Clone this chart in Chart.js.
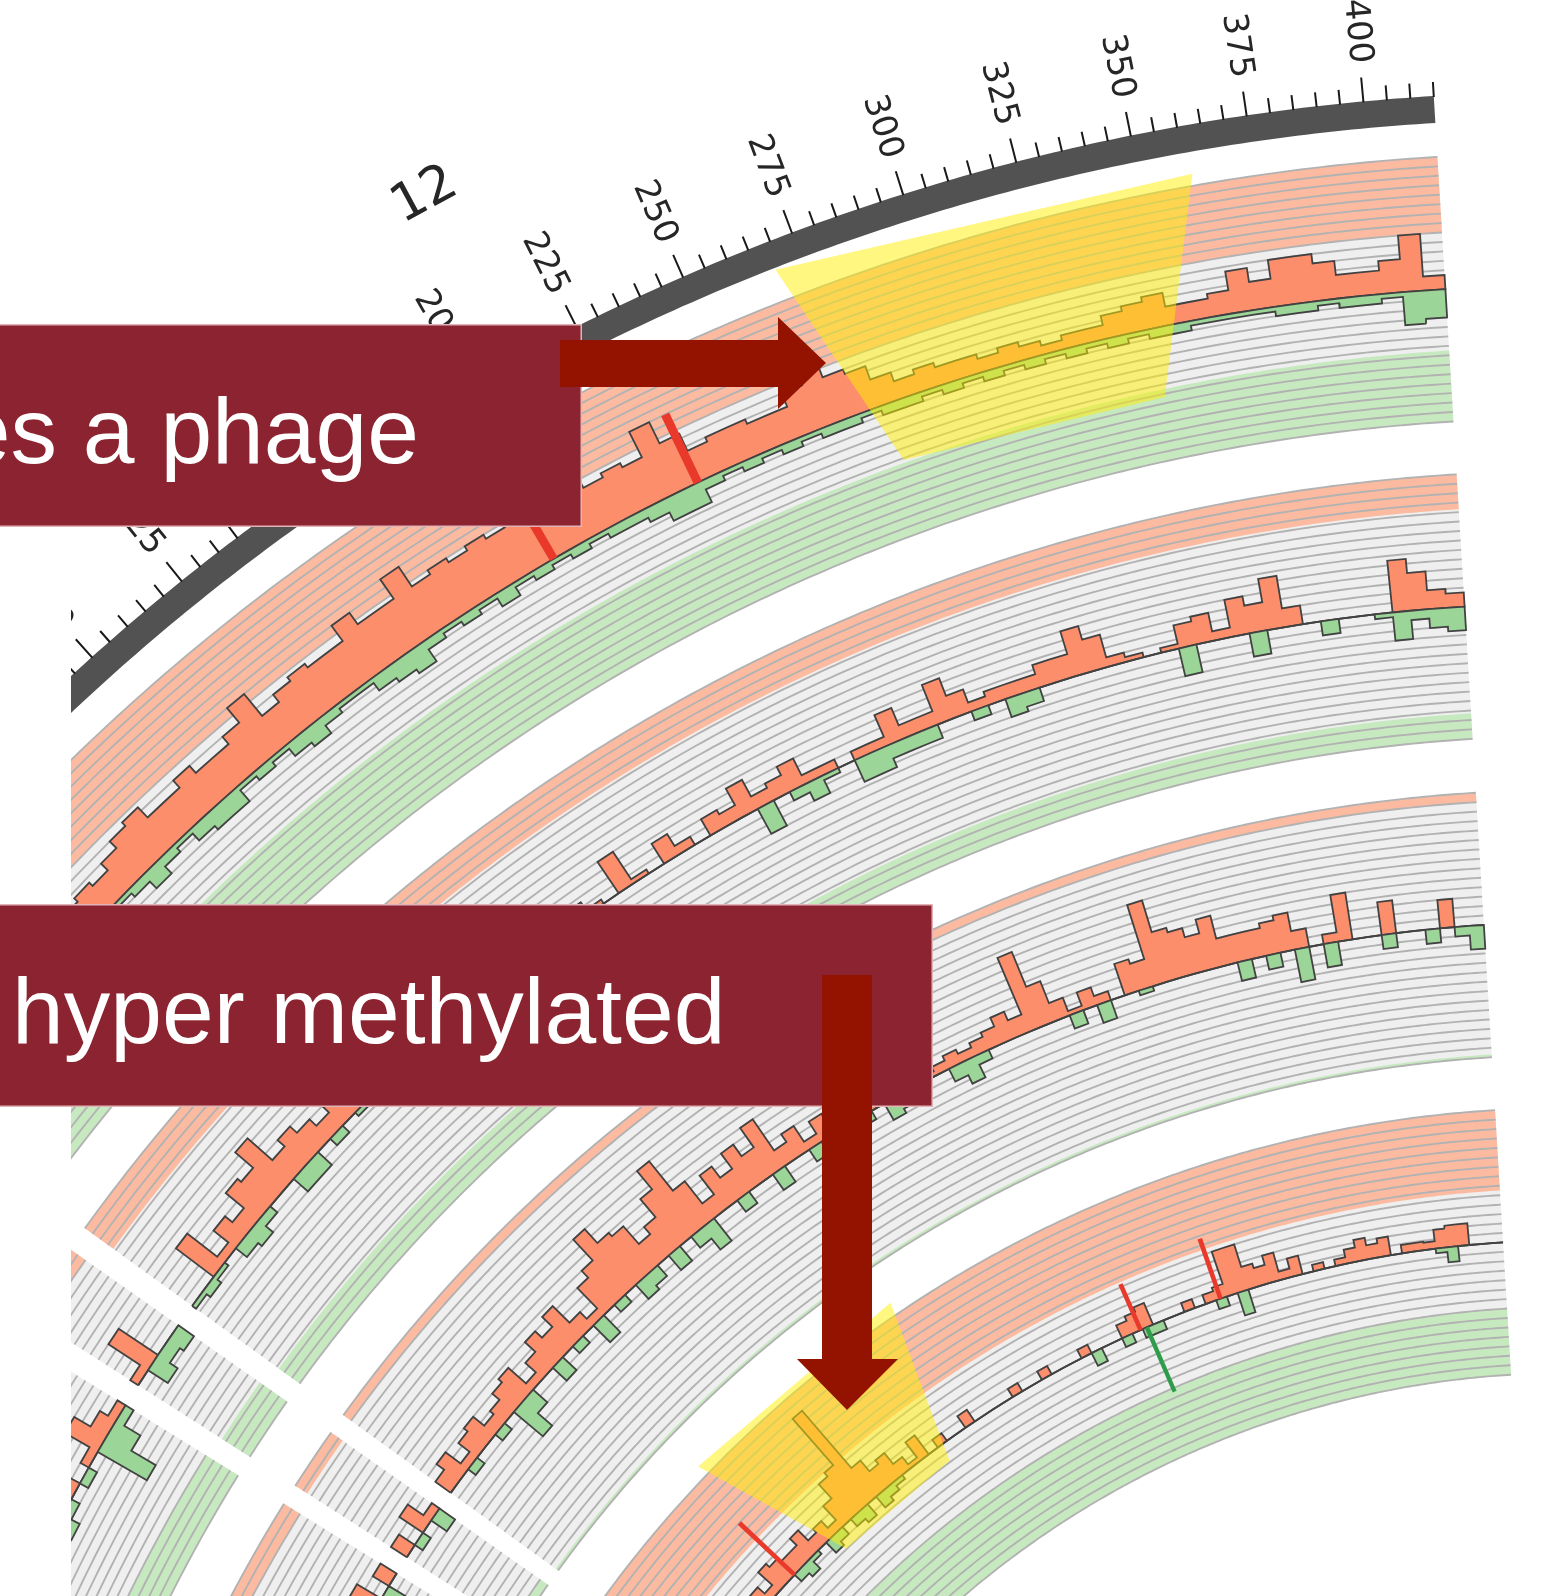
<!DOCTYPE html>
<html>
<head>
<meta charset="utf-8">
<style>
  html, body { margin: 0; padding: 0; background: #fff; }
  #wrap { width: 1560px; height: 1596px; }
  canvas { display: block; }
</style>
</head>
<body>
<div id="wrap"><canvas id="chart" width="1560" height="1596"></canvas></div>
<script src="https://cdn.jsdelivr.net/npm/chart.js@4/dist/chart.umd.min.js"></script>
<script>
// ---------------- data (kb, values in grid steps) ----------------
const chromosome = '12';
const chromLengthKb = 415;
const contigLengthKb = 20;
const prevShownKb = 60;
const binKb = 5;
const tickLabelKb = [0, 25, 50, 75, 100, 125, 150, 175, 200, 225, 250, 275, 300, 325, 350, 375, 400];

// track 1 (outer) starts at 50 kb, everything before is off the page
const t1Start = 50;
const t1Up = [2,3,3.5,3,4,5,5.5,4,4,5,
  4,4,5,7,4,5,5.5,5,5,7,
  5.5,5.5,8,5.5,6,5.5,6,5.5,7,5.5,
  5.5,5.5,5,5.5,5,8,5.5,3.5,4,4,
  3.5,3.5,5,6,5,4.5,3,2,2.5,2,
  2,1.5,2,1.5,1,1.5,1.5,2.5,3,3.5,
  2,2,2.5,4.5,3,5,5,4,2.5,2.5,
  3.5,6,1.5];
const t1Dn = [1,0.5,1.5,0.5,1,2,1,0.5,1.5,2,
  2,0.5,1,0.5,1.5,2,1,0.5,0.5,1.5,
  2,2.5,1,0.5,1,0.5,1.5,0.5,1,0.5,
  1,0.5,1,1,1.5,2.5,2.5,1,0.5,1,
  0.5,1,0.5,1,1,0.5,1,1,0.5,1,
  0.5,1,0.5,1,0.5,1,0.5,1,0.5,1,
  1,0.5,0.5,0.5,0.5,1,1,0.5,1,1,
  0.5,3.5,3];

const t2Up = [0,0,5,1,3,2,4.5,4,6.5,3,
  4,3,2,3,1,2.5,0,2,1,3,
  0.5,2,1,0,2,1,0.5,1,3,1,
  1.5,0.5,0,4,0.5,0,2.5,1,0,2,
  1.5,3.5,1.5,2,3,1,1,0,1,1,
  3.5,1.5,1.5,4.5,2.5,1,1.5,1.5,1.5,2.5,
  2.5,5,3.5,1,0.5,0,0.5,2.5,3,1,
  4,3,5.5,2,0,0,0,0,0,5.5,
  4,2,1.5];
const t2Dn = [0.5,1,0.5,0,1.5,2,1,0,0,2,
  2,0,1,0,0.5,0,1,0,0,1,
  0,0,1,0,0,0.5,0,0,0,0,
  0,1,0,0,0,0,0,0,0,0,
  0,0,3,0,1,2,0.5,0,2.5,2.5,
  1.5,1.5,1.5,0,0,1,0,2,1.5,0,
  0,0,0,0,0,0,0,3,0,0,
  0,2.5,0,0,0,1.5,0,0,0.5,3,
  1,2,2.5];

const t3Up = [2,3,1,2.5,3,1.5,2,3,3.5,1,
  2.5,4,3,4.5,2,1,4,5,8,6,
  5.5,3,4,6.5,9,5,2,4.5,3,5,
  3.5,6,2,3,1,2.5,1.5,2,1,1.5,
  2,1,1.5,0.5,1,1.5,1,1.5,2,3,
  2,8.5,4.5,2,0.5,2,1,0,3.5,3,
  9,5.5,5,4,5.5,3,3,3,3.5,4,
  2,0,1,5,0,0,3.5,0,0,0,
  3,0,0];
const t3Dn = [0,0,1,0,0,1,0,4,2,0,
  0,2,0,1,0,2.5,0,1,0,2,
  1.5,0,2,0,1.5,3,0,0,1.5,0,
  0,2,0,0,1.5,0,1,0,1,0,
  2,1.5,1,0,0,1.5,2.5,1,0,0,
  0,0,0,0,1.5,0,2,0,0,0.5,
  0,0,0,0,0,0,2,0,1.5,0,
  3.5,0,2.5,0,0,0,1.5,0,0,1.5,
  0,1,2.5];

const t4Up = [1,2,0,1.5,3,1,2,0.5,2,1,
  3,2.5,2,2,3,1.5,2,1,3,5,
  5.5,12,4,2.5,3,1.5,0.5,2.5,0,1,
  0,0,1.5,0,0,0,0,1,0,0,
  1,0,0,0,1,0,0,0,1.5,2,
  2.5,0,0,0,1,0,1,1.4,5,5,
  2.5,2,3,0.9,2,0,0.7,0,0.7,1.5,
  2.3,1.5,2,0,0.9,0.9,0.8,2,2.3,2.3,
  0,0,0];
const t4Dn = [0,1,0,0,1,0,0,0,0,0,
  0,0,1,1.5,0.5,0,1.5,1,0,1,
  1.5,0,1.5,1,0.5,0,0,0,0,0,
  0,0,0,0,0,0,0,0,0,0,
  0,0,0,0,0,1.5,0,0,1,0,
  1,1,0,0,0,0,0,1,0,2.5,
  0,0,0,0,0,0,0,0,0,0,
  0,0,0,0,0,0,0,0.5,1.6,0,
  0,0,0];

// small contig and the end of the previous chromosome (tracks 2 and 3)
const c2Up = [1,5,0,0],  c2Dn = [0,2.5,1.5,2];
const c3Up = [2,0,3,1],  c3Dn = [0,1,0,2];
const p2Up = [1,0,2,1,0,3,2,0,1,4,2,1], p2Dn = [0,1,0,0,2,1,0,1,0,6,3,1];
const p3Up = [2,1,3,0,2,1,0,2,1,3,0,2], p3Dn = [1,0,0,2,0,1,0,0,1,0,2,0];

// single strong bins drawn in red / dark green
const hlTrack = [0, 0, 3, 3, 3, 3];
const hlKb    = [196, 234, 60, 249, 287, 252];
const hlValue = [7, 8, 8, 5.3, 6.7, -7.4];

// highlighted regions (kb at each corner, radius at each corner)
const phageKb = [268.9, 361.5, 345.6, 281], phageR = [2179, 2159, 1945, 1956];
const methylKb = [163.6, 145.7, 84.6, 65], methylR = [1205, 1042, 1041, 1204];

// ---------------- layout ----------------
const W = 1560, H = 1596;
const LEFT = 71;                 // the figure is cut off at this x
const CX = 1567, CY = 2300;      // circle centre (page px), below the page
const END_ANGLE = 3.46;          // degrees left of vertical where chr 12 ends
const DEG_PER_KB = 0.1221;
const GAP_DEG = 0.8;
const RAD = Math.PI / 180;
const IDEO_IN = 2181, IDEO_OUT = 2208;
const TRACK_OUT = [2147, 1829, 1510, 1192];
const TRACK_H = 265, LEVELS = 28, UNIT = TRACK_H / LEVELS;
const LABEL_R = 2246, CHR_LABEL_R = 2394;

const C = {
  grey: '#efefef', grid: '#b2b2b2', orangeBg: '#fcbba1', greenBg: '#c7e9c0',
  up: '#fc8e6b', down: '#9bd597', edge: '#424242', red: '#e8392b', darkGreen: '#2f9c4c',
  ideo: '#525252', tick: '#1a1a1a', yellow: 'rgba(255,240,0,0.5)',
  box: '#8c2330', arrow: '#931300'
};

const segments = [
  { name: chromosome, len: chromLengthKb, bands: [[8, 7.5], [3.7, 2.7], [1, 0.3], [8.5, 7]],
    tracks: [{ start: t1Start, up: t1Up, dn: t1Dn }, { start: 0, up: t2Up, dn: t2Dn },
             { start: 0, up: t3Up, dn: t3Dn }, { start: 0, up: t4Up, dn: t4Dn }] },
  { name: 'contig', len: contigLengthKb, bands: [[8, 7.5], [2, 3.5], [1.5, 1], [8, 7]],
    tracks: [null, { start: 0, up: c2Up, dn: c2Dn }, { start: 0, up: c3Up, dn: c3Dn }, null] },
  { name: 'prev', len: prevShownKb, bands: [[8, 7.5], [1, 4], [2, 3], [8, 7]],
    tracks: [null, { start: 0, up: p2Up, dn: p2Dn }, { start: 0, up: p3Up, dn: p3Dn }, null] }
];
let a0 = END_ANGLE;
segments.forEach(s => { s.end = a0; s.start = a0 + s.len * DEG_PER_KB; a0 = s.start + GAP_DEG; });

function angleOf(seg, kb) { return seg.end + (seg.len - kb) * DEG_PER_KB; }
function polar(seg, kb, r) {
  const t = angleOf(seg, kb) * RAD;
  return { x: -r * Math.sin(t), y: r * Math.cos(t) };
}
function arc(seg, kb0, kb1, r, step) {
  const n = Math.max(1, Math.ceil(Math.abs(kb1 - kb0) / step));
  const pts = [];
  for (let i = 0; i <= n; i++) pts.push(polar(seg, kb0 + (kb1 - kb0) * i / n, r));
  return pts;
}
function sector(seg, kb0, kb1, r0, r1) {
  return arc(seg, kb0, kb1, r0, 2).concat(arc(seg, kb1, kb0, r1, 2));
}

const datasets = [];
function add(data, opts) {
  datasets.push(Object.assign({ data, order: -datasets.length, pointRadius: 0, borderWidth: 0, fill: false }, opts));
}
function area(data, color, border, bw) {
  add(data, { fill: 'shape', backgroundColor: color, borderColor: border || 'transparent', borderWidth: bw || 0 });
}

// track backgrounds and grid
segments.forEach(seg => {
  TRACK_OUT.forEach((out, ti) => {
    const inn = out - TRACK_H;
    const [ob, gb] = seg.bands[ti];
    area(sector(seg, 0, seg.len, out, inn), C.grey);
    area(sector(seg, 0, seg.len, out, out - ob * UNIT), C.orangeBg);
    area(sector(seg, 0, seg.len, inn + gb * UNIT, inn), C.greenBg);
    const grid = [];
    for (let k = 0; k <= LEVELS; k++) {
      grid.push(...arc(seg, 0, seg.len, out - k * UNIT, 2));
      grid.push({ x: null, y: null });
    }
    add(grid, { borderColor: C.grid, borderWidth: 1.9 });
  });
});

// ideogram and ticks (chromosome 12 only)
const chr = segments[0];
area(sector(chr, 0, chr.len, IDEO_OUT, IDEO_IN), C.ideo);
const ticks = [];
for (let kb = 0; kb <= chr.len; kb += 5) {
  const len = kb % 25 === 0 ? 24 : 14;
  ticks.push(polar(chr, kb, IDEO_OUT - 1), polar(chr, kb, IDEO_OUT + len), { x: null, y: null });
}
add(ticks, { borderColor: C.tick, borderWidth: 2 });

// histograms
function histogram(seg, d, base, sign) {
  const vals = sign > 0 ? d.up : d.dn;
  const pts = [polar(seg, d.start, base)];
  vals.forEach((v, i) => {
    const k0 = d.start + i * binKb, r = base + sign * v * UNIT;
    pts.push(polar(seg, k0, r), polar(seg, k0 + binKb, r));
  });
  const kEnd = d.start + vals.length * binKb;
  return pts.concat(arc(seg, kEnd, d.start, base, binKb));
}
segments.forEach(seg => {
  seg.tracks.forEach((d, ti) => {
    if (!d) return;
    const base = TRACK_OUT[ti] - TRACK_H / 2;
    area(histogram(seg, d, base, 1), C.up, C.edge, 1.8);
    area(histogram(seg, d, base, -1), C.down, C.edge, 1.8);
  });
});

// strong single bins
hlKb.forEach((kb, i) => {
  const base = TRACK_OUT[hlTrack[i]] - TRACK_H / 2;
  const v = hlValue[i];
  area(sector(chr, kb - 1, kb + 1, base + v * UNIT, base), v > 0 ? C.red : C.darkGreen);
});

// highlighted regions
function quad(kbs, rs) {
  const p = kbs.map((kb, i) => polar(chr, kb, rs[i]));
  return p.concat([p[0]]);
}
area(quad(phageKb, phageR), C.yellow);
area(quad(methylKb, methylR), C.yellow);

// ---------------- text, boxes and arrows ----------------
const overlay = {
  id: 'overlay',
  afterDatasetsDraw(chart) {
    const ctx = chart.ctx, sx = chart.scales.x, sy = chart.scales.y, ca = chart.chartArea;
    const px = p => [sx.getPixelForValue(p.x), sy.getPixelForValue(p.y)];
    ctx.save();
    ctx.beginPath();
    ctx.rect(ca.left, ca.top, ca.right - ca.left, ca.bottom - ca.top);
    ctx.clip();
    ctx.fillStyle = '#262626';
    ctx.font = '34px "DejaVu Sans", sans-serif';
    ctx.textAlign = 'right';
    ctx.textBaseline = 'middle';
    tickLabelKb.forEach(kb => {
      const [x, y] = px(polar(chr, kb, LABEL_R));
      ctx.save();
      ctx.translate(x, y);
      ctx.rotate((90 - angleOf(chr, kb)) * RAD);
      ctx.fillText(String(kb), 0, 0);
      ctx.restore();
    });
    const mid = 210;
    const [lx, ly] = px(polar(chr, mid, CHR_LABEL_R));
    ctx.translate(lx, ly);
    ctx.rotate(-angleOf(chr, mid) * RAD);
    ctx.textAlign = 'center';
    ctx.font = '52px "DejaVu Sans", sans-serif';
    ctx.fillText(chromosome, 0, 0);
    ctx.restore();
  },
  afterDraw(chart) {
    const ctx = chart.ctx;
    ctx.save();
    const box = (x, y, w, h) => {
      ctx.fillStyle = C.box;
      ctx.fillRect(x, y, w, h);
      ctx.strokeStyle = 'rgba(255,230,230,0.75)';
      ctx.lineWidth = 1.5;
      ctx.strokeRect(x - 2, y + 0.75, w + 1.25, h - 1.5);
    };
    const poly = pts => {
      ctx.beginPath();
      pts.forEach(([x, y], i) => (i ? ctx.lineTo(x, y) : ctx.moveTo(x, y)));
      ctx.closePath();
      ctx.fill();
    };
    box(0, 324, 582, 203);
    box(0, 904, 933, 203);
    ctx.fillStyle = '#ffffff';
    ctx.font = '93px "Liberation Sans", Arial, sans-serif';
    ctx.textBaseline = 'alphabetic';
    ctx.textAlign = 'right';
    ctx.fillText('es a phage', 419, 463);
    ctx.textAlign = 'left';
    ctx.fillText('hyper methylated', 12, 1043);
    ctx.fillStyle = C.arrow;
    poly([[560, 340], [778, 340], [778, 317], [826, 363], [778, 409], [778, 387], [560, 387]]);
    poly([[822, 975], [872, 975], [872, 1359], [898, 1359], [847, 1410], [797, 1359], [822, 1359]]);
    ctx.restore();
  }
};

new Chart('chart', {
  type: 'line',
  data: { datasets },
  options: {
    responsive: false,
    devicePixelRatio: 1,
    animation: false,
    events: [],
    layout: { padding: { left: LEFT, right: 0, top: 0, bottom: 0 } },
    elements: { point: { radius: 0 }, line: { tension: 0 } },
    scales: {
      x: { type: 'linear', display: false, min: LEFT - CX, max: W - CX },
      y: { type: 'linear', display: false, min: CY - H, max: CY }
    },
    plugins: { legend: { display: false }, tooltip: { enabled: false } }
  },
  plugins: [overlay]
});
</script>
</body>
</html>
